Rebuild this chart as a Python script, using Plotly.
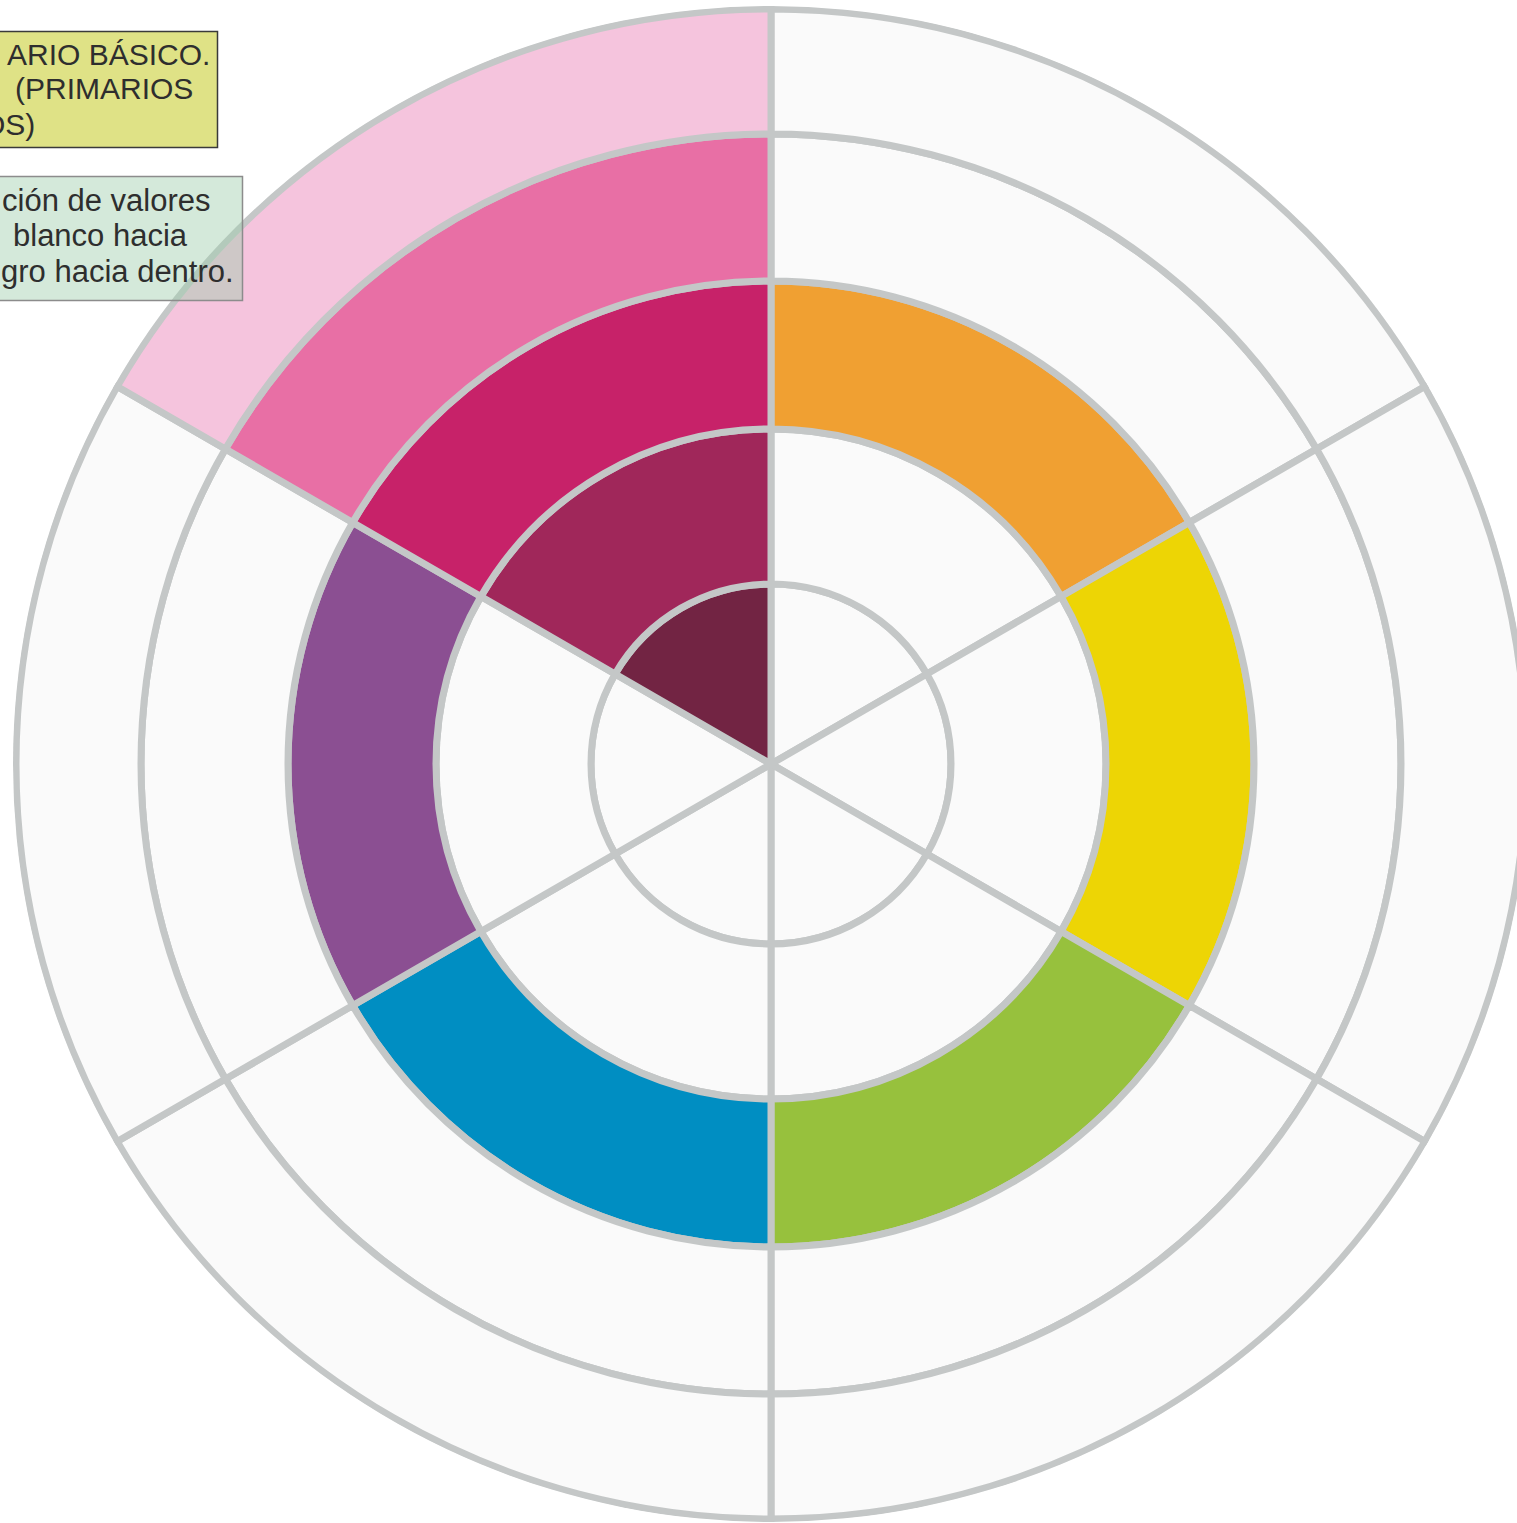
import plotly.graph_objects as go

# ---- data ----
sector_names = ["Naranja", "Amarillo", "Verde", "Azul", "Violeta", "Magenta"]
sector_angles = [60, 0, 300, 240, 180, 120]
sector_width = 60

ring_names = ["Anillo 1 (negro)", "Anillo 2", "Anillo 3 (puro)", "Anillo 4", "Anillo 5 (blanco)"]
ring_edges = [0, 180, 335, 483, 630, 755]

EMPTY = "#FAFAFA"
ring_colors = [
    [EMPTY, EMPTY, EMPTY, EMPTY, EMPTY, "#722443"],
    [EMPTY, EMPTY, EMPTY, EMPTY, EMPTY, "#A0275A"],
    ["#F0A032", "#EDD505", "#97C13D", "#008EC2", "#8B4F92", "#C72269"],
    [EMPTY, EMPTY, EMPTY, EMPTY, EMPTY, "#E86FA5"],
    [EMPTY, EMPTY, EMPTY, EMPTY, EMPTY, "#F5C4DD"],
]

box1_lines = ["ARIO BÁSICO.", "(PRIMARIOS", "OS)"]
box2_lines = ["ción de valores", "blanco hacia", "gro hacia dentro."]

# ---- layout constants (pixels) ----
W, H = 1530, 1523
CX, CY = 771, 764
R = 758
GRAY = "#C4C7C7"

fig = go.Figure()
for i, name in enumerate(ring_names):
    inner, outer = ring_edges[i], ring_edges[i + 1]
    fig.add_trace(go.Barpolar(
        name=name,
        theta=sector_angles,
        r=[outer - inner] * len(sector_angles),
        base=[inner] * len(sector_angles),
        width=[sector_width] * len(sector_angles),
        text=sector_names,
        marker=dict(color=ring_colors[i], line=dict(color=GRAY, width=7)),
        showlegend=False,
        hoverinfo="text",
    ))

fig.update_layout(
    width=W, height=H,
    margin=dict(l=0, r=0, t=0, b=0),
    paper_bgcolor="white",
    plot_bgcolor="white",
    polar=dict(
        domain=dict(x=[(CX - R) / W, (CX + R) / W], y=[(H - CY - R) / H, (H - CY + R) / H]),
        bgcolor="white",
        bargap=0,
        radialaxis=dict(range=[0, R], visible=False, showgrid=False, showline=False, showticklabels=False, ticks=""),
        angularaxis=dict(direction="counterclockwise", rotation=0, visible=False,
                         showgrid=False, showline=False, showticklabels=False, ticks=""),
    ),
)

def px(x):
    return x / W

def py(y):
    return 1 - y / H

# text boxes (partly cut at the left edge of the picture)
fig.add_shape(type="rect", xref="paper", yref="paper",
              x0=px(-30), x1=px(217.5), y0=py(147.5), y1=py(31.5),
              fillcolor="#DFE286", line=dict(color="#3A3A3A", width=1.5), layer="above")
fig.add_shape(type="rect", xref="paper", yref="paper",
              x0=px(-30), x1=px(242.5), y0=py(300.5), y1=py(176.5),
              fillcolor="rgba(160,206,173,0.45)", line=dict(color="#8C8C8C", width=1.5), layer="above")

font1 = dict(family="Liberation Sans, Arial, sans-serif", size=30, color="#2E2E2E")
font2 = dict(family="Liberation Sans, Arial, sans-serif", size=31, color="#2E2E2E")
box1_x = [5, 13, -20]
box1_y = [54, 89, 124]
box2_x = [0, 11, -1]
box2_y = [200.5, 236, 271]
for t, x, y in zip(box1_lines, box1_x, box1_y):
    fig.add_annotation(text=t, xref="paper", yref="paper", x=px(x), y=py(y),
                       xanchor="left", yanchor="middle", showarrow=False, font=font1)
for t, x, y in zip(box2_lines, box2_x, box2_y):
    fig.add_annotation(text=t, xref="paper", yref="paper", x=px(x), y=py(y),
                       xanchor="left", yanchor="middle", showarrow=False, font=font2)

fig.write_html(
    "out.html",
    config={"displayModeBar": False},
    post_script="document.body.style.margin='0';document.body.style.overflow='hidden';",
)
